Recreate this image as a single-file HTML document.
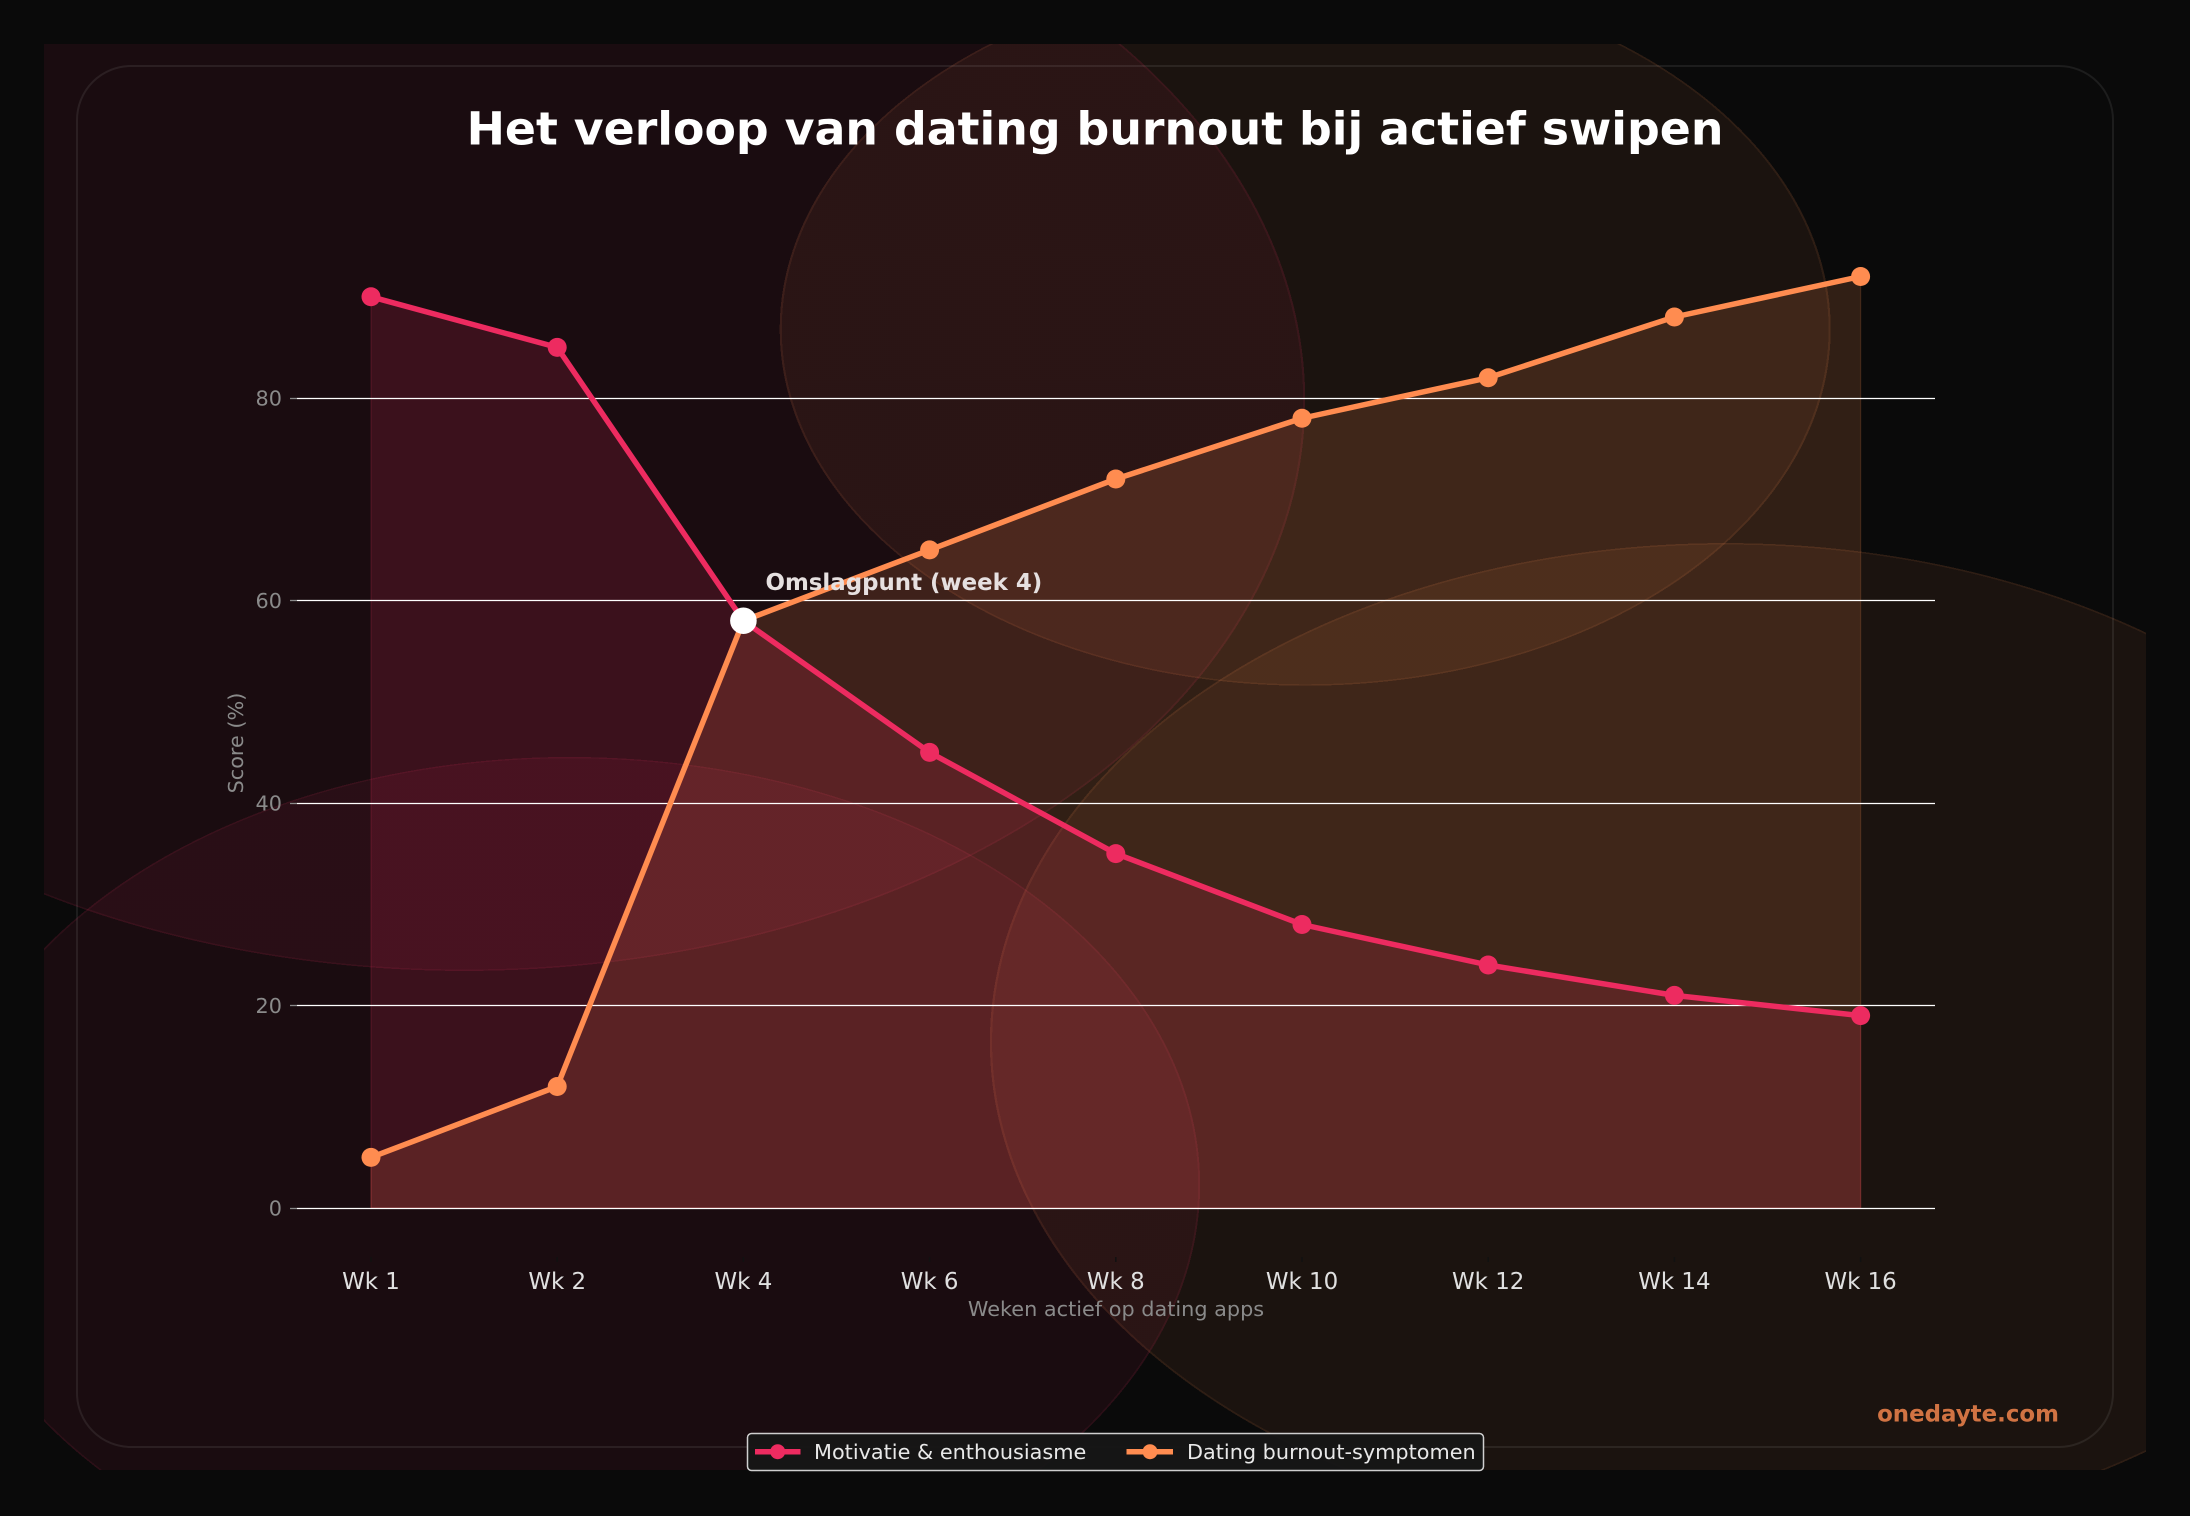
<!DOCTYPE html>
<html><head><meta charset="utf-8">
<style>
html,body{margin:0;padding:0;background:#0a0a0a;width:2190px;height:1516px;overflow:hidden;position:relative;}
#blobs{position:absolute;left:44px;top:44px;width:2102px;height:1426px;
background:
radial-gradient(840.8px 570.4px at 420.4px 356.5px, rgba(237,43,96,0.07) 0, rgba(237,43,96,0.07) 99.75%, rgba(237,43,96,0.15) 99.75%, rgba(237,43,96,0.15) 100%, rgba(0,0,0,0) 100%),
radial-gradient(525.5px 356.5px at 1261.2px 285.2px, rgba(255,140,80,0.07) 0, rgba(255,140,80,0.07) 99.6%, rgba(255,140,80,0.15) 99.6%, rgba(255,140,80,0.15) 100%, rgba(0,0,0,0) 100%),
radial-gradient(630.6px 427.8px at 525.5px 1140.8px, rgba(237,43,96,0.07) 0, rgba(237,43,96,0.07) 99.7%, rgba(237,43,96,0.15) 99.7%, rgba(237,43,96,0.15) 100%, rgba(0,0,0,0) 100%),
radial-gradient(735.7px 499.1px at 1681.6px 998.2px, rgba(255,140,80,0.07) 0, rgba(255,140,80,0.07) 99.7%, rgba(255,140,80,0.15) 99.7%, rgba(255,140,80,0.15) 100%, rgba(0,0,0,0) 100%),
#0a0a0a;}
svg{display:block;position:absolute;left:0;top:0;}
text{font-family:"DejaVu Sans","Liberation Sans",sans-serif;}
</style></head><body>
<div id="blobs"></div>
<svg width="2190" height="1516" viewBox="0 0 2190 1516" xmlns="http://www.w3.org/2000/svg">
<rect x="77" y="66" width="2036" height="1381" rx="54" ry="54" fill="none" stroke="#ffffff" stroke-opacity="0.08" stroke-width="2"/>

<!-- title -->
<text x="1095" y="144.5" text-anchor="middle" font-size="45.8" font-weight="bold" fill="#ffffff">Het verloop van dating burnout bij actief swipen</text>

<!-- fills -->
<polygon points="371,1157.4 557.2,1086.5 743.4,620.75 929.6,549.9 1115.8,479 1302,418.25 1488.2,377.75 1674.4,317 1860.6,276.5 1860.6,1208 371,1208" fill="#FF8C50" fill-opacity="0.16" stroke="#FF8C50" stroke-opacity="0.16" stroke-width="1.3"/>
<polygon points="371,296.75 557.2,347.4 743.4,620.75 929.6,752.4 1115.8,853.6 1302,924.5 1488.2,965 1674.4,995.4 1860.6,1015.6 1860.6,1208 371,1208" fill="#ED2B60" fill-opacity="0.16" stroke="#ED2B60" stroke-opacity="0.16" stroke-width="1.3"/>

<!-- grid -->
<g stroke="#ffffff" stroke-width="1.2">
  <line x1="297" y1="1208.5" x2="1935" y2="1208.5"/>
  <line x1="297" y1="1005.5" x2="1935" y2="1005.5"/>
  <line x1="297" y1="803.5" x2="1935" y2="803.5"/>
  <line x1="297" y1="600.5" x2="1935" y2="600.5"/>
  <line x1="297" y1="398.5" x2="1935" y2="398.5"/>
</g>
<!-- y ticks -->
<g stroke="#8a8a8a" stroke-width="1.3">
  <line x1="290" y1="1208.5" x2="297" y2="1208.5"/>
  <line x1="290" y1="1005.5" x2="297" y2="1005.5"/>
  <line x1="290" y1="803.5" x2="297" y2="803.5"/>
  <line x1="290" y1="600.5" x2="297" y2="600.5"/>
  <line x1="290" y1="398.5" x2="297" y2="398.5"/>
</g>
<g font-size="20.8" fill="#8a8a8a" text-anchor="end">
  <text x="282" y="1215.6">0</text>
  <text x="282" y="1013.1">20</text>
  <text x="282" y="810.6">40</text>
  <text x="282" y="608.1">60</text>
  <text x="282" y="405.6">80</text>
</g>
<!-- x ticks -->
<g stroke="#111111" stroke-width="1.5">
  <line x1="371" y1="1257" x2="371" y2="1262"/>
  <line x1="557.2" y1="1257" x2="557.2" y2="1262"/>
  <line x1="743.4" y1="1257" x2="743.4" y2="1262"/>
  <line x1="929.6" y1="1257" x2="929.6" y2="1262"/>
  <line x1="1115.8" y1="1257" x2="1115.8" y2="1262"/>
  <line x1="1302" y1="1257" x2="1302" y2="1262"/>
  <line x1="1488.2" y1="1257" x2="1488.2" y2="1262"/>
  <line x1="1674.4" y1="1257" x2="1674.4" y2="1262"/>
  <line x1="1860.6" y1="1257" x2="1860.6" y2="1262"/>
</g>
<g font-size="22.9" fill="#e0e0e0" text-anchor="middle">
  <text x="371" y="1289">Wk 1</text>
  <text x="557.2" y="1289">Wk 2</text>
  <text x="743.4" y="1289">Wk 4</text>
  <text x="929.6" y="1289">Wk 6</text>
  <text x="1115.8" y="1289">Wk 8</text>
  <text x="1302" y="1289">Wk 10</text>
  <text x="1488.2" y="1289">Wk 12</text>
  <text x="1674.4" y="1289">Wk 14</text>
  <text x="1860.6" y="1289">Wk 16</text>
</g>
<!-- axis labels -->
<text x="1116" y="1316" text-anchor="middle" font-size="20.8" fill="#8a8a8a">Weken actief op dating apps</text>
<text transform="translate(243,743) rotate(-90)" x="0" y="0" text-anchor="middle" font-size="20.8" fill="#8a8a8a">Score (%)</text>

<!-- lines -->
<polyline points="371,296.75 557.2,347.4 743.4,620.75 929.6,752.4 1115.8,853.6 1302,924.5 1488.2,965 1674.4,995.4 1860.6,1015.6" fill="none" stroke="#ED2B60" stroke-width="5.5" stroke-linejoin="round" stroke-linecap="round"/>
<polyline points="371,1157.4 557.2,1086.5 743.4,620.75 929.6,549.9 1115.8,479 1302,418.25 1488.2,377.75 1674.4,317 1860.6,276.5" fill="none" stroke="#FF8C50" stroke-width="5.5" stroke-linejoin="round" stroke-linecap="round"/>
<g fill="#ED2B60">
  <circle cx="371" cy="296.75" r="9.5"/>
  <circle cx="557.2" cy="347.4" r="9.5"/>
  <circle cx="929.6" cy="752.4" r="9.5"/>
  <circle cx="1115.8" cy="853.6" r="9.5"/>
  <circle cx="1302" cy="924.5" r="9.5"/>
  <circle cx="1488.2" cy="965" r="9.5"/>
  <circle cx="1674.4" cy="995.4" r="9.5"/>
  <circle cx="1860.6" cy="1015.6" r="9.5"/>
</g>
<g fill="#FF8C50">
  <circle cx="371" cy="1157.4" r="9.5"/>
  <circle cx="557.2" cy="1086.5" r="9.5"/>
  <circle cx="929.6" cy="549.9" r="9.5"/>
  <circle cx="1115.8" cy="479" r="9.5"/>
  <circle cx="1302" cy="418.25" r="9.5"/>
  <circle cx="1488.2" cy="377.75" r="9.5"/>
  <circle cx="1674.4" cy="317" r="9.5"/>
  <circle cx="1860.6" cy="276.5" r="9.5"/>
</g>
<circle cx="743.4" cy="620.75" r="13.3" fill="#ffffff"/>
<text x="765.5" y="590" font-size="22.9" font-weight="bold" fill="#e6e0e0">Omslagpunt (week 4)</text>

<!-- watermark -->
<text x="2059" y="1421.5" text-anchor="end" font-size="22.9" font-weight="bold" fill="#FF8C50" fill-opacity="0.8">onedayte.com</text>

<!-- legend -->
<rect x="747.5" y="1433.5" width="736" height="37" rx="4" ry="4" fill="#161616" fill-opacity="0.95" stroke="#cfcfcf" stroke-width="1.5"/>
<line x1="755" y1="1451.7" x2="800.5" y2="1451.7" stroke="#ED2B60" stroke-width="5.5"/>
<circle cx="777.7" cy="1451.7" r="7.5" fill="#ED2B60"/>
<text x="814" y="1459" font-size="20.8" fill="#e8e8e8">Motivatie &amp; enthousiasme</text>
<line x1="1126.5" y1="1451.7" x2="1173" y2="1451.7" stroke="#FF8C50" stroke-width="5.5"/>
<circle cx="1150" cy="1451.7" r="7.5" fill="#FF8C50"/>
<text x="1187" y="1459" font-size="20.8" fill="#e8e8e8">Dating burnout-symptomen</text>
</svg>
</body></html>
